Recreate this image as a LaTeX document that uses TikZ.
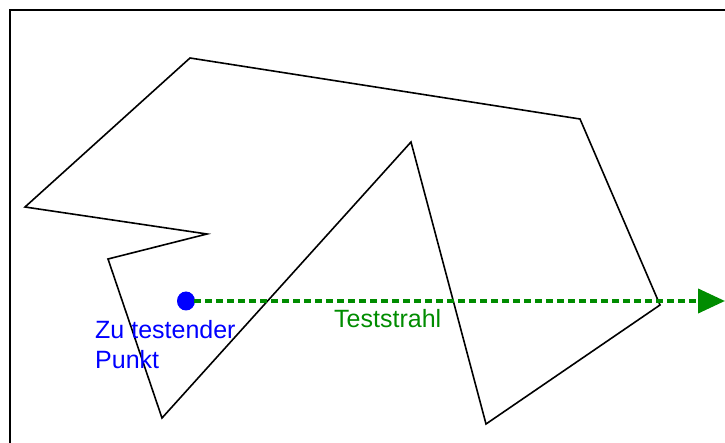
\documentclass[tikz,border=0pt]{standalone}
\usepackage{fontspec}
\setmainfont{Liberation Sans}
\usepackage{xcolor}
\usetikzlibrary{arrows.meta,positioning,calc,shapes.geometric}
\definecolor{raygreen}{RGB}{0,140,0}
\begin{document}
\begin{tikzpicture}[
  x=1pt, y=-1pt,
  font=\fontsize{25}{30}\selectfont,
  frame/.style={line width=1.6pt},
  poly/.style={line width=1.6pt, line join=miter},
  dot/.style={ellipse, fill=blue, inner sep=0pt, minimum width=18pt, minimum height=19pt},
  ray/.style={raygreen, line width=4pt, dash pattern=on 7pt off 4pt, -{Triangle[length=27pt, width=24pt]}, shorten <=-1pt},
  lbl/.style={inner sep=0pt, align=left},
]
\useasboundingbox (0,0) rectangle (725,443);
\draw[frame] (10,443) -- (10,10) -- (725,10);

% polygon to be tested
\draw[poly] (190,58) -- (580,119) -- (660,305) -- (486,424) -- (411,142)
  -- (162,418) -- (108,259) -- (207,234) -- (25,207) -- cycle;

\node[dot] (pt) at (186,301) {};
\coordinate (rayend) at (725,301);
\draw[ray] (pt.east) -- (rayend);

\node[lbl, text=blue, anchor=north west] (ptlbl) at (95,320) {Zu testender\\Punkt};
\node[lbl, text=raygreen, anchor=base west] (raylbl) at (334,327) {Teststrahl};
\end{tikzpicture}
\end{document}
